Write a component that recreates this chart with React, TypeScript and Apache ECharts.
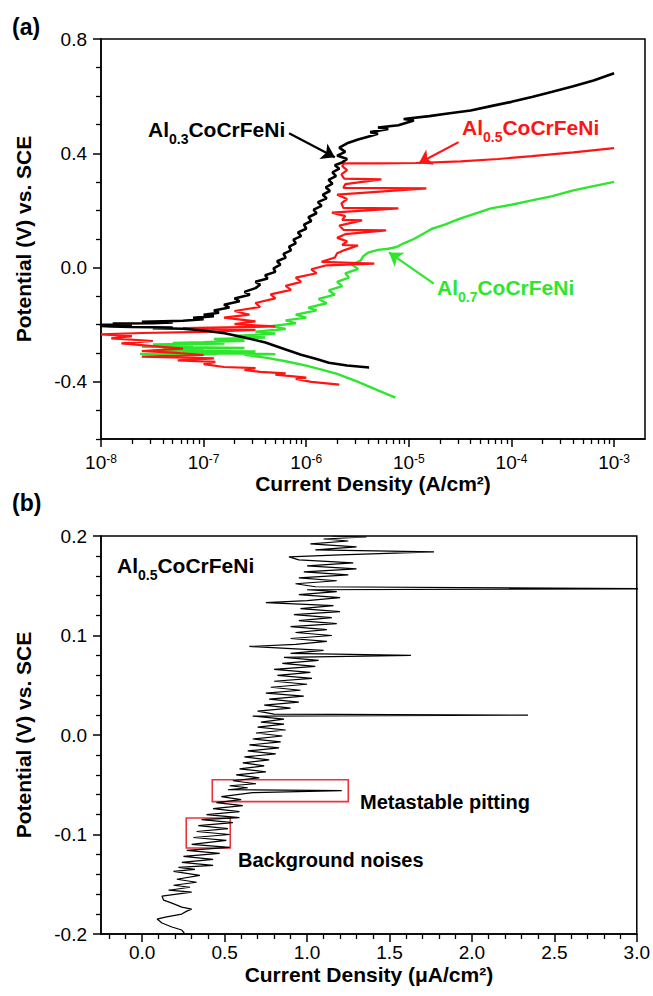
import React, { useEffect, useRef } from 'react';
import * as echarts from 'echarts';

const FONT = '"Liberation Sans", Arial, Helvetica, sans-serif';

// ---------- (a) polarization curves: [current density (A/cm²), potential (V vs. SCE)] ----------
const AL03: [number, number][] = [
  [4.1e-6, -0.350], [2.5e-6, -0.343], [1.66e-6, -0.333], [1.26e-6, -0.320], [8.9e-7, -0.305],
  [6.3e-7, -0.287], [4.0e-7, -0.262], [2.5e-7, -0.245], [1.6e-7, -0.230], [1.0e-7, -0.220],
  [6.3e-8, -0.214], [3.2e-8, -0.212], [5.0e-8, -0.210], [2.0e-8, -0.208], [1.26e-8, -0.206],
  [1.0e-8, -0.204],
  [1.0e-8, -0.200], [2.0e-8, -0.199], [1.3e-8, -0.196], [3.2e-8, -0.195], [5.0e-8, -0.192],
  [2.5e-8, -0.190], [6.3e-8, -0.186], [1.0e-7, -0.181], [7.9e-8, -0.176], [1.26e-7, -0.170],
  [1.0e-7, -0.165], [1.41e-7, -0.158], [1.26e-7, -0.150], [1.78e-7, -0.140], [1.58e-7, -0.130],
  [2.24e-7, -0.118], [2.0e-7, -0.108], [2.82e-7, -0.095], [2.5e-7, -0.085], [3.2e-7, -0.072],
  [3.55e-7, -0.060], [3.2e-7, -0.050], [4.2e-7, -0.038], [3.98e-7, -0.027], [5.0e-7, -0.015],
  [4.8e-7, -0.003], [5.6e-7, 0.010], [5.2e-7, 0.022], [6.3e-7, 0.035], [6.0e-7, 0.048],
  [7.1e-7, 0.060], [6.8e-7, 0.073], [7.9e-7, 0.085], [7.5e-7, 0.098], [8.9e-7, 0.110],
  [8.3e-7, 0.123], [1.0e-6, 0.136], [9.5e-7, 0.150], [1.12e-6, 0.163], [1.05e-6, 0.176],
  [1.26e-6, 0.190], [1.18e-6, 0.203], [1.41e-6, 0.216], [1.3e-6, 0.229], [1.58e-6, 0.242],
  [1.45e-6, 0.255], [1.7e-6, 0.268], [1.55e-6, 0.281], [1.8e-6, 0.294], [1.65e-6, 0.307],
  [1.95e-6, 0.320], [1.8e-6, 0.333], [2.1e-6, 0.346], [1.9e-6, 0.358], [2.24e-6, 0.368],
  [2.5e-6, 0.380], [2.0e-6, 0.392], [2.4e-6, 0.405], [2.1e-6, 0.420], [2.5e-6, 0.435],
  [3.2e-6, 0.448], [4.0e-6, 0.458], [5.0e-6, 0.468], [4.2e-6, 0.474], [6.3e-6, 0.485],
  [5.0e-6, 0.490], [7.9e-6, 0.498], [1.12e-5, 0.515], [8.9e-6, 0.520], [1.58e-5, 0.530],
  [2.5e-5, 0.540], [4.0e-5, 0.550], [6.3e-5, 0.565], [1.0e-4, 0.580], [1.58e-4, 0.597],
  [2.5e-4, 0.615], [4.0e-4, 0.635], [6.3e-4, 0.655], [1.0e-3, 0.680],
];

const AL05: [number, number][] = [
  [2.1e-6, -0.410], [1.58e-6, -0.405], [1.12e-6, -0.400], [7.9e-7, -0.390], [1.0e-6, -0.385],
  [5.0e-7, -0.375], [6.3e-7, -0.370], [3.55e-7, -0.365], [2.5e-7, -0.358], [3.2e-7, -0.352],
  [1.58e-7, -0.348], [1.0e-7, -0.338], [1.3e-7, -0.330], [5.6e-8, -0.325], [1.26e-7, -0.318],
  [2.5e-8, -0.312], [1.0e-7, -0.306], [5.0e-8, -0.298], [2.5e-8, -0.292], [6.3e-8, -0.284],
  [3.2e-8, -0.275], [1.58e-8, -0.265], [3.2e-8, -0.257], [1.26e-8, -0.248], [2.0e-8, -0.240],
  [1.0e-8, -0.234],
  [2.5e-8, -0.229], [1.0e-7, -0.225], [3.2e-7, -0.218], [6.3e-8, -0.212], [5.0e-7, -0.206],
  [2.0e-7, -0.198], [3.2e-7, -0.188], [1.58e-7, -0.175], [2.8e-7, -0.165], [2.0e-7, -0.152],
  [3.55e-7, -0.138], [3.2e-7, -0.124], [5.0e-7, -0.108], [4.5e-7, -0.094], [7.1e-7, -0.078],
  [6.3e-7, -0.064], [8.9e-7, -0.050], [7.9e-7, -0.035], [1.26e-6, -0.020], [1.12e-6, -0.006],
  [1.58e-6, 0.008], [4.6e-6, 0.014], [1.41e-6, 0.020], [1.9e-6, 0.035], [2.0e-6, 0.050],
  [2.4e-6, 0.062], [3.2e-6, 0.077], [2.24e-6, 0.079], [2.5e-6, 0.092], [2.0e-6, 0.104],
  [2.4e-6, 0.117], [6.0e-6, 0.130], [2.3e-6, 0.132], [2.1e-6, 0.147], [3.5e-6, 0.165],
  [2.24e-6, 0.167], [2.4e-6, 0.180], [1.78e-6, 0.192], [7.9e-6, 0.207], [2.3e-6, 0.209],
  [2.2e-6, 0.225], [2.5e-6, 0.240], [2.0e-6, 0.255], [1.48e-5, 0.277], [2.3e-6, 0.279],
  [2.4e-6, 0.292], [5.4e-6, 0.309], [2.34e-6, 0.311], [2.2e-6, 0.326], [2.5e-6, 0.341],
  [2.24e-6, 0.355], [2.34e-6, 0.365], [5.0e-6, 0.365], [1.17e-5, 0.366], [3.2e-5, 0.372],
  [7.4e-5, 0.380], [1.58e-4, 0.390], [4.0e-4, 0.403], [1.0e-3, 0.418],
];

const AL07: [number, number][] = [
  [7.4e-6, -0.455], [5.0e-6, -0.430], [3.2e-6, -0.400], [2.0e-6, -0.372], [1.41e-6, -0.357],
  [1.0e-6, -0.343], [6.3e-7, -0.328], [4.0e-7, -0.315], [2.5e-7, -0.305], [5.0e-7, -0.303],
  [1.58e-7, -0.300], [1.0e-7, -0.304], [2.4e-8, -0.302], [2.0e-7, -0.299], [6.3e-8, -0.296],
  [3.2e-7, -0.294], [3.2e-8, -0.291], [1.0e-7, -0.287], [4.0e-8, -0.283], [2.5e-7, -0.281],
  [2.5e-8, -0.277], [7.9e-8, -0.273], [3.2e-8, -0.269], [1.6e-7, -0.266], [5.0e-8, -0.264],
  [1.0e-7, -0.261], [2.5e-7, -0.256], [1.26e-7, -0.250], [4.0e-7, -0.245], [2.0e-7, -0.239],
  [5.0e-7, -0.231], [3.2e-7, -0.224], [6.3e-7, -0.215], [4.5e-7, -0.205], [7.9e-7, -0.195],
  [6.3e-7, -0.185], [1.0e-6, -0.175], [7.9e-7, -0.165], [1.26e-6, -0.150], [1.05e-6, -0.140],
  [1.58e-6, -0.125], [1.32e-6, -0.110], [1.9e-6, -0.095], [1.66e-6, -0.080], [2.24e-6, -0.065],
  [2.0e-6, -0.050], [2.6e-6, -0.035], [2.4e-6, -0.020], [3.2e-6, -0.005], [2.8e-6, 0.010],
  [3.4e-6, 0.025], [3.6e-6, 0.040], [4.0e-6, 0.052], [5.0e-6, 0.062], [6.3e-6, 0.066],
  [7.6e-6, 0.072], [8.9e-6, 0.085], [1.12e-5, 0.100], [1.41e-5, 0.120], [1.66e-5, 0.135],
  [2.24e-5, 0.150], [3.2e-5, 0.172], [4.5e-5, 0.190], [6.3e-5, 0.207], [1.0e-4, 0.220],
  [1.58e-4, 0.235], [2.5e-4, 0.250], [4.0e-4, 0.270], [6.3e-4, 0.285], [1.0e-3, 0.300],
];

// ---------- (b) current noise of Al0.5CoCrFeNi: [current density (µA/cm²), potential (V)] ----------
const NOISE: [number, number][] = [
  [0.255, -0.199], [0.24, -0.196], [0.18, -0.193], [0.12, -0.189], [0.09, -0.185], [0.14, -0.183],
  [0.24, -0.180], [0.27, -0.177], [0.30, -0.175], [0.24, -0.173], [0.18, -0.169], [0.13, -0.166],
  [0.12, -0.162], [0.21, -0.160], [0.30, -0.158], [0.16, -0.156], [0.29, -0.153], [0.19, -0.151],
  [0.33, -0.148], [0.21, -0.145], [0.35, -0.141], [0.19, -0.137], [0.32, -0.135], [0.22, -0.133],
  [0.43, -0.131], [0.24, -0.128], [0.43, -0.125], [0.25, -0.122], [0.47, -0.119], [0.27, -0.116],
  [0.53, -0.113], [0.30, -0.110], [0.51, -0.106], [0.31, -0.103], [0.53, -0.100], [0.33, -0.097],
  [0.52, -0.094], [0.34, -0.091], [0.55, -0.088], [0.36, -0.085], [0.59, -0.083], [0.39, -0.080],
  [0.59, -0.077], [0.43, -0.074], [0.61, -0.071], [0.45, -0.068], [0.60, -0.065], [0.48, -0.062],
  [0.67, -0.058], [1.21, -0.056], [0.52, -0.055], [0.64, -0.053], [0.53, -0.051], [0.69, -0.049],
  [0.55, -0.046], [0.71, -0.043], [0.57, -0.040], [0.75, -0.037], [0.59, -0.034], [0.74, -0.031],
  [0.61, -0.028], [0.77, -0.025], [0.62, -0.022], [0.81, -0.019], [0.64, -0.016], [0.83, -0.013],
  [0.65, -0.010], [0.84, -0.007], [0.67, -0.004], [0.85, -0.001], [0.69, 0.002], [0.87, 0.005],
  [0.70, 0.008], [0.86, 0.011], [0.72, 0.013], [0.86, 0.016], [0.67, 0.019], [2.34, 0.020],
  [0.80, 0.021], [0.70, 0.024], [0.90, 0.027], [0.74, 0.030], [0.95, 0.033], [0.77, 0.036],
  [0.98, 0.039], [0.75, 0.042], [0.96, 0.045], [0.78, 0.048], [1.00, 0.051], [0.80, 0.054],
  [1.03, 0.057], [0.82, 0.060], [1.02, 0.063], [0.80, 0.066], [1.05, 0.069], [0.85, 0.072],
  [1.07, 0.075], [0.86, 0.078], [1.63, 0.080], [0.90, 0.082], [1.10, 0.085], [0.65, 0.089],
  [0.93, 0.091], [1.12, 0.094], [0.90, 0.097], [1.15, 0.100], [0.93, 0.103], [1.12, 0.106],
  [0.90, 0.109], [1.18, 0.112], [0.95, 0.115], [1.15, 0.118], [0.92, 0.121], [1.20, 0.124],
  [0.96, 0.127], [1.16, 0.130], [0.75, 0.133], [1.00, 0.135], [1.20, 0.138], [0.95, 0.141],
  [1.18, 0.144], [1.00, 0.146], [3.20, 0.147], [1.05, 0.149], [0.93, 0.152], [1.18, 0.155],
  [0.95, 0.158], [1.25, 0.161], [0.98, 0.164], [1.30, 0.167], [1.00, 0.170], [1.28, 0.173],
  [0.95, 0.176], [0.89, 0.179], [1.20, 0.181], [1.77, 0.184], [1.05, 0.186], [1.30, 0.189],
  [1.02, 0.192], [1.25, 0.195], [1.10, 0.197], [1.36, 0.199], [1.15, 0.200],
];

// ---------- axes / ticks ----------
const TOP_X_MIN = 1e-8;
const TOP_X_MAX = 2e-3;
const TOP_X_DECADES = [-8, -7, -6, -5, -4, -3];
const MINOR_FACTORS = [2, 3, 4, 5, 6, 7, 8, 9];
const TOP_Y_MAJOR = [-0.4, 0, 0.4, 0.8];
const TOP_Y_MINOR = [-0.6, -0.5, -0.3, -0.2, -0.1, 0.1, 0.2, 0.3, 0.5, 0.6, 0.7];
const BOT_X_MAJOR = [0, 0.5, 1.0, 1.5, 2.0, 2.5, 3.0];
const BOT_X_MINOR = [-0.2, -0.1, 0.1, 0.2, 0.3, 0.4, 0.6, 0.7, 0.8, 0.9, 1.1, 1.2, 1.3, 1.4,
  1.6, 1.7, 1.8, 1.9, 2.1, 2.2, 2.3, 2.4, 2.6, 2.7, 2.8, 2.9];

const BLACK = '#000000';
const RED = '#ff1414';
const GREEN = '#2ee62e';

const toLog = (d: [number, number][]) => d.map(([i, v]) => [Math.log10(i), v]);

function arrow(color: string, from: [number, number], to: [number, number]) {
  return {
    silent: true,
    symbol: ['none', 'arrow'],
    symbolSize: 13,
    animation: false,
    label: { show: false },
    emphasis: { disabled: true },
    lineStyle: { color, width: 2.2, type: 'solid' },
    data: [[{ coord: [Math.log10(from[0]), from[1]] }, { coord: [Math.log10(to[0]), to[1]] }]],
  };
}

function richLabel(sub: string, color: string, x: number, y: number) {
  return {
    type: 'text',
    x,
    y,
    z: 100,
    style: {
      text: `{m|Al}{s|${sub}}{m|CoCrFeNi}`,
      verticalAlign: 'top',
      align: 'left',
      rich: {
        m: { fontSize: 21, fontWeight: 'bold', fontFamily: FONT, fill: color, lineHeight: 21, verticalAlign: 'top' },
        s: { fontSize: 14, fontWeight: 'bold', fontFamily: FONT, fill: color, lineHeight: 27, verticalAlign: 'bottom' },
      },
    },
  };
}

export default function App() {
  const ref = useRef<HTMLDivElement>(null);

  useEffect(() => {
    document.body.style.margin = '0';
    if (!ref.current) return;
    const chart = echarts.init(ref.current, undefined, { renderer: 'svg' });

    const topMinor: number[] = [];
    TOP_X_DECADES.forEach((n) => {
      MINOR_FACTORS.forEach((k) => {
        const v = k * Math.pow(10, n);
        if (v < TOP_X_MAX) topMinor.push(Math.log10(v));
      });
    });

    const tickLabel = { color: '#000', fontSize: 19, fontFamily: FONT };
    const axisTitle = { color: '#000', fontSize: 21, fontWeight: 'bold', fontFamily: FONT };
    const line = { show: true, onZero: false, lineStyle: { color: '#000', width: 1.5 } };
    const noLine = { show: false, onZero: false };

    const option: any = {
      animation: false,
      backgroundColor: '#fff',
      grid: [
        { left: 101, top: 39, width: 544, height: 400, show: true, borderColor: '#000', borderWidth: 1.5, backgroundColor: 'transparent' },
        { left: 101, top: 536, width: 536, height: 398, show: true, borderColor: '#000', borderWidth: 1.5, backgroundColor: 'transparent' },
      ],
      xAxis: [
        {
          gridIndex: 0, type: 'value', position: 'bottom',
          min: Math.log10(TOP_X_MIN), max: Math.log10(TOP_X_MAX),
          axisLine: line,
          axisTick: { show: true, inside: false, length: 8, customValues: TOP_X_DECADES, lineStyle: { color: '#000', width: 1.5 } },
          axisLabel: {
            customValues: TOP_X_DECADES, margin: 14,
            formatter: (v: number) => `{b|10}{s|${Math.round(v)}}`,
            rich: {
              b: { fontSize: 19, fontFamily: FONT, color: '#000', lineHeight: 19, verticalAlign: 'bottom', padding: [4, 0, 0, 0] },
              s: { fontSize: 12, fontFamily: FONT, color: '#000', lineHeight: 12, verticalAlign: 'top' },
            },
          },
          splitLine: { show: false },
          name: 'Current Density (A/cm²)', nameLocation: 'middle', nameGap: 30, nameTextStyle: axisTitle,
        },
        {
          gridIndex: 0, type: 'value', position: 'bottom',
          min: Math.log10(TOP_X_MIN), max: Math.log10(TOP_X_MAX),
          axisLine: noLine,
          axisTick: { show: true, inside: false, length: 5, customValues: topMinor, lineStyle: { color: '#000', width: 1.3 } },
          axisLabel: { show: false },
          splitLine: { show: false },
        },
        {
          gridIndex: 1, type: 'value', position: 'bottom', min: -0.25, max: 3.0,
          axisLine: line,
          axisTick: { show: true, inside: false, length: 8, customValues: BOT_X_MAJOR, lineStyle: { color: '#000', width: 1.5 } },
          axisLabel: { ...tickLabel, customValues: BOT_X_MAJOR, margin: 9, formatter: (v: number) => v.toFixed(1) },
          splitLine: { show: false },
          name: 'Current Density (μA/cm²)', nameLocation: 'middle', nameGap: 30, nameTextStyle: axisTitle,
        },
        {
          gridIndex: 1, type: 'value', position: 'bottom', min: -0.25, max: 3.0,
          axisLine: noLine,
          axisTick: { show: true, inside: false, length: 5, customValues: BOT_X_MINOR, lineStyle: { color: '#000', width: 1.3 } },
          axisLabel: { show: false },
          splitLine: { show: false },
        },
      ],
      yAxis: [
        {
          gridIndex: 0, type: 'value', position: 'left', min: -0.6, max: 0.8,
          axisLine: line,
          axisTick: { show: true, inside: false, length: 8, customValues: TOP_Y_MAJOR, lineStyle: { color: '#000', width: 1.5 } },
          axisLabel: { ...tickLabel, customValues: TOP_Y_MAJOR, margin: 14, formatter: (v: number) => v.toFixed(1) },
          splitLine: { show: false },
          name: 'Potential (V) vs. SCE', nameLocation: 'middle', nameGap: 67, nameTextStyle: axisTitle,
        },
        {
          gridIndex: 0, type: 'value', position: 'left', min: -0.6, max: 0.8,
          axisLine: noLine,
          axisTick: { show: true, inside: false, length: 5, customValues: TOP_Y_MINOR, lineStyle: { color: '#000', width: 1.3 } },
          axisLabel: { show: false },
          splitLine: { show: false },
        },
        {
          gridIndex: 1, type: 'value', position: 'left', min: -0.2, max: 0.2, interval: 0.1,
          axisLine: line,
          axisTick: { show: true, inside: false, length: 8, lineStyle: { color: '#000', width: 1.5 } },
          minorTick: { show: true, splitNumber: 5, length: 5, lineStyle: { color: '#000', width: 1.3 } },
          axisLabel: { ...tickLabel, margin: 14, formatter: (v: number) => v.toFixed(1) },
          splitLine: { show: false },
          minorSplitLine: { show: false },
          name: 'Potential (V) vs. SCE', nameLocation: 'middle', nameGap: 67, nameTextStyle: axisTitle,
        },
      ],
      series: [
        {
          name: 'Al0.7CoCrFeNi', type: 'line', xAxisIndex: 0, yAxisIndex: 0, data: toLog(AL07),
          showSymbol: false, symbol: 'none', lineStyle: { color: GREEN, width: 2.4 }, z: 2,
          markLine: arrow(GREEN, [1.75e-5, -0.056], [6.4e-6, 0.053]),
        },
        {
          name: 'Al0.5CoCrFeNi', type: 'line', xAxisIndex: 0, yAxisIndex: 0, data: toLog(AL05),
          showSymbol: false, symbol: 'none', lineStyle: { color: RED, width: 2.2 }, z: 3,
          markLine: arrow(RED, [3.05e-5, 0.439], [1.25e-5, 0.365]),
        },
        {
          name: 'Al0.3CoCrFeNi', type: 'line', xAxisIndex: 0, yAxisIndex: 0, data: toLog(AL03),
          showSymbol: false, symbol: 'none', lineStyle: { color: BLACK, width: 2.6 }, z: 4,
          markLine: arrow(BLACK, [6.8e-7, 0.470], [1.9e-6, 0.386]),
        },
        {
          name: 'noise', type: 'line', xAxisIndex: 2, yAxisIndex: 2, data: NOISE,
          showSymbol: false, symbol: 'none', lineStyle: { color: BLACK, width: 1.2 }, z: 3,
          markArea: {
            silent: true,
            itemStyle: { color: 'rgba(0,0,0,0)', borderColor: '#e8343a', borderWidth: 1.6 },
            label: { show: false },
            data: [
              [{ coord: [0.425, -0.045] }, { coord: [1.25, -0.067] }],
              [{ coord: [0.267, -0.0834] }, { coord: [0.534, -0.1136] }],
            ],
          },
        },
      ],
      graphic: [
        { type: 'text', x: 12, y: 27, style: { text: '(a)', fontSize: 23, fontWeight: 'bold', fontFamily: FONT, fill: '#000', verticalAlign: 'middle' } },
        { type: 'text', x: 12, y: 503, style: { text: '(b)', fontSize: 23, fontWeight: 'bold', fontFamily: FONT, fill: '#000', verticalAlign: 'middle' } },
        richLabel('0.3', BLACK, 148, 119),
        richLabel('0.5', RED, 462, 117),
        richLabel('0.7', GREEN, 437, 277),
        richLabel('0.5', BLACK, 117, 555),
        { type: 'text', x: 360, y: 802, style: { text: 'Metastable pitting', fontSize: 20, fontWeight: 'bold', fontFamily: FONT, fill: '#000', verticalAlign: 'middle' } },
        { type: 'text', x: 238, y: 860, style: { text: 'Background noises', fontSize: 20, fontWeight: 'bold', fontFamily: FONT, fill: '#000', verticalAlign: 'middle' } },
      ],
    };

    chart.setOption(option);
    return () => chart.dispose();
  }, []);

  return <div ref={ref} style={{ position: 'absolute', left: 0, top: 0, width: 653, height: 996, background: '#fff' }} />;
}
